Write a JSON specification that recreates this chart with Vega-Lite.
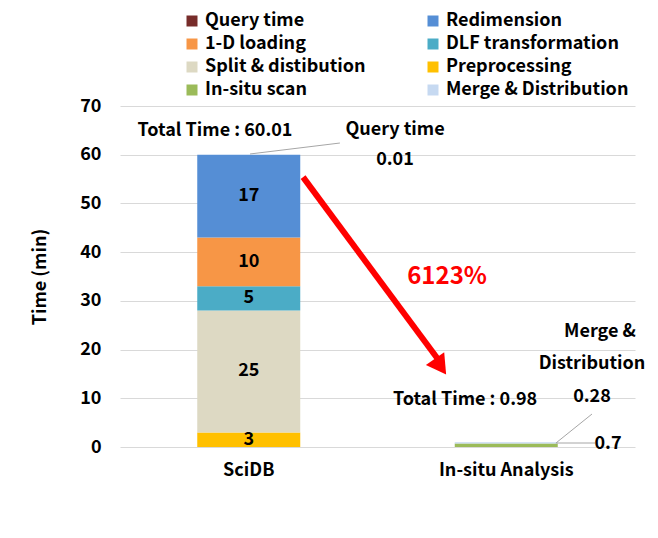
{
  "$schema": "https://vega.github.io/schema/vega-lite/v6.json",
  "autosize": "none",
  "width": 515,
  "height": 341,
  "padding": {"left": 120, "top": 106, "right": 23, "bottom": 91},
  "background": "white",
  "config": {
    "font": "Noto Sans CJK KR",
    "view": {"stroke": null},
    "text": {"font": "Noto Sans CJK KR", "fontWeight": "bold", "fontSize": 18, "color": "#000000"}
  },
  "datasets": {
    "parts": [
      {"system": "SciDB", "part": "Preprocessing", "value": 3, "rank": 1},
      {"system": "SciDB", "part": "Split & distibution", "value": 25, "rank": 2},
      {"system": "SciDB", "part": "DLF transformation", "value": 5, "rank": 3},
      {"system": "SciDB", "part": "1-D loading", "value": 10, "rank": 4},
      {"system": "SciDB", "part": "Redimension", "value": 17, "rank": 5},
      {"system": "SciDB", "part": "Query time", "value": 0.01, "rank": 6},
      {"system": "In-situ Analysis", "part": "In-situ scan", "value": 0.7, "rank": 7},
      {"system": "In-situ Analysis", "part": "Merge & Distribution", "value": 0.28, "rank": 8}
    ],
    "notes": [
      {"px": 0.369, "py": 64.87, "label": "Total Time : 60.01"},
      {"px": 1.068, "py": 65.07, "label": "Query time"},
      {"px": 1.068, "py": 58.9, "label": "0.01"},
      {"px": 1.34, "py": 9.65, "label": "Total Time : 0.98"},
      {"px": 1.864, "py": 23.6, "label": "Merge &"},
      {"px": 1.833, "py": 17.04, "label": "Distribution"},
      {"px": 1.833, "py": 10.26, "label": "0.28"},
      {"px": 1.895, "py": 0.62, "label": "0.7"}
    ],
    "leaders": [
      {"x1": 0.505, "y1": 60.15, "x2": 0.854, "y2": 62.4},
      {"x1": 1.693, "y1": 0.82, "x2": 1.833, "y2": 6.77},
      {"x1": 1.693, "y1": 0.82, "x2": 1.845, "y2": 0.82}
    ],
    "arrow": [
      {"x1": 0.711, "y1": 55.4, "x2": 1.235, "y2": 18.0}
    ],
    "arrowhead": [
      {"px": 1.245, "py": 16.5}
    ],
    "pct": [
      {"px": 1.27, "py": 34.9, "label": "6123%"}
    ]
  },
  "layer": [
    {
      "layer": [
        {
          "data": {"name": "parts"},
          "mark": {"type": "bar", "width": {"band": 0.4}},
          "encoding": {
            "x": {
              "field": "system", "type": "nominal",
              "sort": ["SciDB", "In-situ Analysis"],
              "scale": {"paddingInner": 0, "paddingOuter": 0},
              "axis": {"title": null, "labelAngle": 0, "domain": false, "ticks": false, "labelPadding": 14, "labelFont": "Noto Sans CJK KR", "labelFontWeight": "bold", "labelFontSize": 18, "labelColor": "#000000"}
            },
            "y": {
              "field": "value", "type": "quantitative", "stack": "zero",
              "scale": {"domain": [0, 70], "nice": false},
              "axis": {"title": "Time (min)", "values": [0, 10, 20, 30, 40, 50, 60, 70], "domain": false, "ticks": false, "labelPadding": 19, "gridColor": "#D9D9D9", "labelFont": "Noto Sans CJK KR", "labelFontWeight": "bold", "labelFontSize": 18, "labelColor": "#000000", "titleFont": "Noto Sans CJK KR", "titleFontWeight": "bold", "titleFontSize": 18, "titleColor": "#000000", "titlePadding": 30}
            },
            "color": {
              "field": "part", "type": "nominal",
              "scale": {
                "domain": ["Query time", "1-D loading", "Split & distibution", "In-situ scan", "Redimension", "DLF transformation", "Preprocessing", "Merge & Distribution"],
                "range": ["#772C2A", "#F79646", "#DDD9C3", "#9BBB59", "#558ED5", "#4BACC6", "#FFC000", "#C6D9F1"]
              },
              "legend": {
                "title": null, "orient": "none", "legendX": 63, "legendY": -94,
                "columns": 2, "columnPadding": 58, "rowPadding": 5,
                "symbolType": "square", "symbolSize": 121, "symbolStrokeWidth": 0, "labelOffset": 4,
                "labelFont": "Noto Sans CJK KR", "labelFontWeight": "bold", "labelFontSize": 18, "labelColor": "#000000",
                "labelLimit": 300
              }
            },
            "order": {"field": "rank", "type": "quantitative"}
          }
        },
        {
          "data": {"name": "parts"},
          "transform": [
            {"stack": "value", "groupby": ["system"], "sort": [{"field": "rank"}], "as": ["v0", "v1"]},
            {"filter": "datum.system == 'SciDB' && datum.part != 'Query time'"},
            {"calculate": "(datum.v0 + datum.v1) / 2", "as": "mid"}
          ],
          "mark": {"type": "text", "baseline": "middle", "align": "center"},
          "encoding": {
            "x": {"field": "system", "type": "nominal", "sort": ["SciDB", "In-situ Analysis"]},
            "y": {"field": "mid", "type": "quantitative"},
            "text": {"field": "value", "type": "quantitative"}
          }
        }
      ]
    },
    {
      "data": {"name": "leaders"},
      "mark": {"type": "rule", "color": "#A6A6A6", "strokeWidth": 1},
      "encoding": {
        "x": {"field": "x1", "type": "quantitative", "scale": {"domain": [0, 2], "nice": false, "zero": false}, "axis": null},
        "y": {"field": "y1", "type": "quantitative"},
        "x2": {"field": "x2"},
        "y2": {"field": "y2"}
      }
    },
    {
      "data": {"name": "arrow"},
      "mark": {"type": "rule", "color": "#FF0000", "strokeWidth": 6},
      "encoding": {
        "x": {"field": "x1", "type": "quantitative", "scale": {"domain": [0, 2], "nice": false, "zero": false}, "axis": null},
        "y": {"field": "y1", "type": "quantitative"},
        "x2": {"field": "x2"},
        "y2": {"field": "y2"}
      }
    },
    {
      "data": {"name": "arrowhead"},
      "mark": {"type": "point", "shape": "triangle-up", "filled": true, "color": "#FF0000", "opacity": 1, "size": 500, "angle": 145},
      "encoding": {
        "x": {"field": "px", "type": "quantitative", "scale": {"domain": [0, 2], "nice": false, "zero": false}, "axis": null},
        "y": {"field": "py", "type": "quantitative"}
      }
    },
    {
      "data": {"name": "notes"},
      "mark": {"type": "text", "baseline": "middle", "align": "center"},
      "encoding": {
        "x": {"field": "px", "type": "quantitative", "scale": {"domain": [0, 2], "nice": false, "zero": false}, "axis": null},
        "y": {"field": "py", "type": "quantitative"},
        "text": {"field": "label"}
      }
    },
    {
      "data": {"name": "pct"},
      "mark": {"type": "text", "baseline": "middle", "align": "center", "fontSize": 24, "color": "#FF0000"},
      "encoding": {
        "x": {"field": "px", "type": "quantitative", "scale": {"domain": [0, 2], "nice": false, "zero": false}, "axis": null},
        "y": {"field": "py", "type": "quantitative"},
        "text": {"field": "label"}
      }
    }
  ],
  "resolve": {"scale": {"x": "independent"}}
}
